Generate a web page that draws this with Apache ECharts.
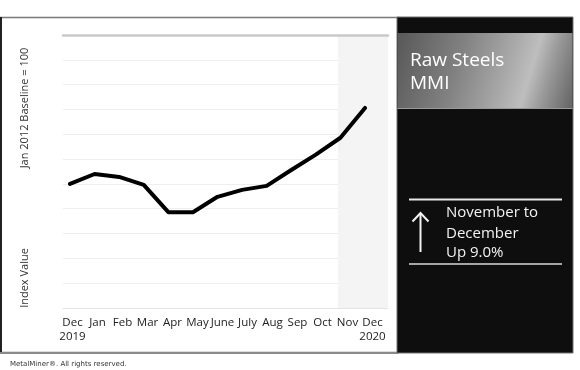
<!DOCTYPE html>
<html>
<head>
<meta charset="utf-8">
<script src="https://cdn.jsdelivr.net/npm/echarts@6/dist/echarts.min.js"></script>
<style>
html,body{margin:0;padding:0;background:#fff;}
#chart{width:580px;height:370px;}
</style>
</head>
<body>
<div id="chart"></div>
<script>
// Data
var months = ['Dec\n2019','Jan','Feb','Mar','Apr','May','June','July','Aug','Sep','Oct','Nov','Dec\n2020'];
var indexValues = [55.0, 57.0, 56.4, 54.8, 49.3, 49.3, 52.4, 53.8, 54.6, 57.8, 60.9, 64.3, 70.3];
var highlighted = [false,false,false,false,false,false,false,false,false,false,false,true,true];
var yMin = 30, yMax = 85, yStep = 5;
var title = ['Raw Steels', 'MMI'];
var changeText = ['November to', 'December', 'Up 9.0%'];
var yNameTop = 'Jan 2012 Baseline = 100';
var yNameBottom = 'Index Value';
var footer = 'MetalMiner\u00AE. All rights reserved.';

var FONT = '"Open Sans", "Noto Sans", sans-serif';
var shadeColors = highlighted.map(function (h) { return h ? '#f4f4f4' : 'rgba(0,0,0,0)'; });

var chart = echarts.init(document.getElementById('chart'));
chart.setOption({
  animation: false,
  backgroundColor: '#ffffff',
  grid: [
    { left: 63, right: 192, top: 35, bottom: 62 },
    { left: 70, right: 215, top: 35, bottom: 62 }
  ],
  xAxis: [
    {
      type: 'category', gridIndex: 0, data: months, boundaryGap: true,
      axisLine: { show: true, lineStyle: { color: '#e4e4e4', width: 1 } },
      axisTick: { show: false },
      axisLabel: { color: '#222', fontFamily: FONT, fontSize: 11.5, lineHeight: 14, margin: 8, interval: 0, padding: [0, 6, 0, 0] },
      splitLine: { show: false },
      splitArea: { show: true, interval: 0, areaStyle: { color: shadeColors } }
    },
    {
      type: 'category', gridIndex: 0, data: months, position: 'top',
      axisLine: { show: true, lineStyle: { color: '#c9c9c9', width: 2.5 } },
      axisTick: { show: false }, axisLabel: { show: false }, splitLine: { show: false }
    },
    {
      type: 'category', gridIndex: 1, data: months, boundaryGap: false, show: false
    }
  ],
  yAxis: [
    {
      type: 'value', gridIndex: 0, min: yMin, max: yMax, interval: yStep,
      axisLine: { show: false }, axisTick: { show: false }, axisLabel: { show: false },
      splitLine: { show: true, lineStyle: { color: '#eeeeee', width: 1 } }
    },
    {
      type: 'value', gridIndex: 1, min: yMin, max: yMax, interval: yStep, show: false,
      splitLine: { show: false }
    }
  ],
  series: [
    {
      type: 'line', xAxisIndex: 2, yAxisIndex: 1, data: indexValues,
      symbol: 'none', smooth: false,
      lineStyle: { color: '#000', width: 4, cap: 'round', join: 'round' },
      z: 5
    }
  ],
  graphic: [
    // outer frame of the chart panel
    { type: 'rect', z: -1, shape: { x: 0.75, y: 17.5, width: 397, height: 335 }, style: { fill: 'none', stroke: '#7a7a7a', lineWidth: 1.5 } },
    { type: 'line', z: -1, shape: { x1: 1, y1: 17, x2: 1, y2: 353 }, style: { stroke: '#222', lineWidth: 2 } },
    { type: 'line', z: -1, shape: { x1: 0, y1: 353, x2: 398, y2: 353 }, style: { stroke: '#8a8a8a', lineWidth: 2 } },
    // black side panel
    { type: 'rect', shape: { x: 397, y: 17, width: 176, height: 336 }, style: { fill: '#0e0e0e', stroke: '#6e6e6e', lineWidth: 1 } },
    { type: 'rect', shape: { x: 397.5, y: 33, width: 175, height: 76 },
      style: { fill: new echarts.graphic.LinearGradient(0, 0.15, 1, 0.85, [
        { offset: 0, color: '#5a5a5a' },
        { offset: 0.35, color: '#828282' },
        { offset: 0.62, color: '#aaaaaa' },
        { offset: 0.74, color: '#bebebe' },
        { offset: 0.84, color: '#9a9a9a' },
        { offset: 1, color: '#686868' }
      ]) } },
    { type: 'line', shape: { x1: 397.5, y1: 108.5, x2: 572.5, y2: 108.5 }, style: { stroke: '#9a9a9a', lineWidth: 1 } },
    { type: 'text', x: 410, y: 60.5, style: { text: title[0], fill: '#ffffff', font: '19px ' + FONT, textAlign: 'left', textVerticalAlign: 'middle' } },
    { type: 'text', x: 410, y: 83.8, style: { text: title[1], fill: '#ffffff', font: '19px ' + FONT, textAlign: 'left', textVerticalAlign: 'middle' } },
    // change box lines
    { type: 'line', shape: { x1: 409, y1: 199.5, x2: 562, y2: 199.5 }, style: { stroke: '#e8e8e8', lineWidth: 2 } },
    { type: 'line', shape: { x1: 409, y1: 264, x2: 562, y2: 264 }, style: { stroke: '#d8d8d8', lineWidth: 1.5 } },
    // arrow
    { type: 'line', shape: { x1: 420.5, y1: 213, x2: 420.5, y2: 252 }, style: { stroke: '#f2f2f2', lineWidth: 2 } },
    { type: 'polyline', shape: { points: [[412.5, 221.5], [420.5, 213], [428.5, 221.5]] }, style: { stroke: '#f2f2f2', lineWidth: 2, fill: 'none' } },
    { type: 'text', x: 446, y: 212.7, style: { text: changeText[0], fill: '#f2f2f2', font: '15px ' + FONT, textAlign: 'left', textVerticalAlign: 'middle' } },
    { type: 'text', x: 446, y: 233.3, style: { text: changeText[1], fill: '#f2f2f2', font: '15px ' + FONT, textAlign: 'left', textVerticalAlign: 'middle' } },
    { type: 'text', x: 446, y: 252.3, style: { text: changeText[2], fill: '#f2f2f2', font: '15px ' + FONT, textAlign: 'left', textVerticalAlign: 'middle' } },
    // y axis names
    { type: 'text', x: 25, y: 108, rotation: Math.PI / 2, style: { text: yNameTop, fill: '#333', font: '11px ' + FONT, textAlign: 'center', textVerticalAlign: 'middle' } },
    { type: 'text', x: 25, y: 278, rotation: Math.PI / 2, style: { text: yNameBottom, fill: '#333', font: '11px ' + FONT, textAlign: 'center', textVerticalAlign: 'middle' } },
    // footer
    { type: 'text', x: 10, y: 364, style: { text: footer, fill: '#333', font: '7px "DejaVu Sans", Verdana, sans-serif', textAlign: 'left', textVerticalAlign: 'middle' } }
  ]
});
</script>
</body>
</html>
